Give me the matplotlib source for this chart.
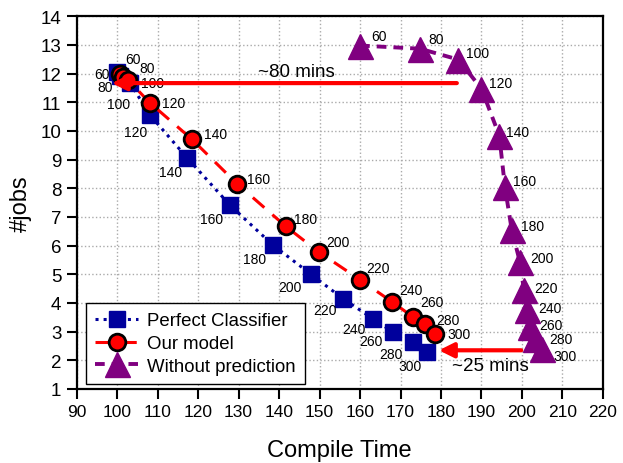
import matplotlib.pyplot as plt

plt.rcParams['font.family'] = ['Liberation Sans', 'DejaVu Sans']

steps = [60, 80, 100, 120, 140, 160, 180, 200, 220, 240, 260, 280, 300]

perfect_x = [100.0, 100.7, 103.2, 108.1, 117.3, 127.9, 138.4, 147.8, 155.9, 163.3, 168.2, 173.2, 176.6]
perfect_y = [12.05, 11.92, 11.67, 10.56, 9.06, 7.41, 6.03, 5.01, 4.14, 3.44, 2.98, 2.63, 2.28]

model_x = [100.7, 101.5, 102.7, 108.1, 118.4, 129.7, 141.6, 149.9, 160.0, 167.8, 173.2, 176.0, 178.5]
model_y = [11.99, 11.87, 11.78, 10.98, 9.72, 8.15, 6.68, 5.77, 4.81, 4.05, 3.50, 3.27, 2.92]

noprio_x = [160.0, 174.8, 184.3, 190.0, 194.4, 195.8, 197.5, 199.5, 200.5, 201.2, 202.0, 203.2, 204.9]
noprio_y = [12.98, 12.87, 12.49, 11.47, 9.84, 8.04, 6.53, 5.43, 4.44, 3.74, 3.16, 2.75, 2.40]

# label offsets in pixels (dx, dy up)
perfect_off = [(-7, -2), (-7, -11), (0, -21), (-3, -17), (-5, -14), (-7, -14), (-6, -14),
               (-9, -13), (-7, -11), (-8, -10), (-11, -9), (-11, -12), (-6, -14)]
model_off = [(5, 15), (16, 9), (13, -3), (12, 0), (12, 5), (10, 5), (8, 7),
             (7, 10), (6, 12), (8, 12), (7, 15), (11, 4), (12, 0)]
noprio_off = [(11, 10), (8, 10), (8, 7), (8, 6), (7, 4), (8, 6), (9, 4),
              (10, 4), (10, 2), (11, 2), (9, 2), (14, 0), (12, -7)]

fig = plt.figure(figsize=(6.23, 4.64), dpi=100)
ax = fig.add_axes([0.123, 0.1595, 0.8448, 0.8032])

ax.plot(perfect_x, perfect_y, ':', color='#00009c', lw=2.2, marker='s', ms=12,
        mfc='#00009c', mec='#00009c', label='Perfect Classifier')
ax.plot(model_x, model_y, '--', color='red', lw=2.2, dashes=(5, 3.5), marker='o', ms=12,
        mfc='red', mec='black', mew=2, label='Our model')
ax.plot(noprio_x, noprio_y, '--', color='purple', lw=2.8, dashes=(2.5, 1.8), marker='^', ms=18,
        mfc='purple', mec='purple', label='Without prediction')

px = 1 / 1.389
for series in [(perfect_x, perfect_y, perfect_off, 'right'),
               (model_x, model_y, model_off, 'left'),
               (noprio_x, noprio_y, noprio_off, 'left')]:
    xs, ys, offs, ha = series
    for s, x, y, (dx, dy) in zip(steps, xs, ys, offs):
        ax.annotate(str(s), (x, y), xytext=(dx * px, dy * px), textcoords='offset points',
                    ha=ha, va='center', fontsize=10)

ax.annotate('', xy=(98.0, 11.67), xytext=(184.6, 11.67),
            arrowprops=dict(arrowstyle='-|>', color='red', lw=3, mutation_scale=22))
ax.text(144.4, 11.78, '~80 mins', fontsize=13.5, ha='center', va='bottom')
ax.annotate('', xy=(178.8, 2.35), xytext=(200.5, 2.35),
            arrowprops=dict(arrowstyle='-|>', color='red', lw=3, mutation_scale=22))
ax.text(192.3, 1.83, '~25 mins', fontsize=13.5, ha='center', va='center')

ax.set_xlim(90, 220)
ax.set_ylim(1, 14)
ax.set_xticks(range(90, 221, 10))
ax.set_yticks(range(1, 15))
ax.tick_params(direction='out', length=7, width=1.5, labelsize=12.5, pad=4)
ax.tick_params(axis='y', labelsize=13.5)
ax.grid(True, linestyle=':', color='#aaaaaa', lw=1)
for sp in ax.spines.values():
    sp.set_linewidth(1.6)

ax.set_xlabel('Compile Time', fontsize=17, labelpad=14)
ax.set_ylabel('#jobs', fontsize=17, labelpad=6)

leg = ax.legend(loc='lower left', bbox_to_anchor=(0.0177, 0.0134), borderaxespad=0,
                fontsize=13.4, handlelength=2.3, handletextpad=0.5, fancybox=False,
                framealpha=1, edgecolor='black', labelspacing=0.3, borderpad=0.5)
leg.get_frame().set_linewidth(1.0)

fig.savefig('out.png', dpi=100)
